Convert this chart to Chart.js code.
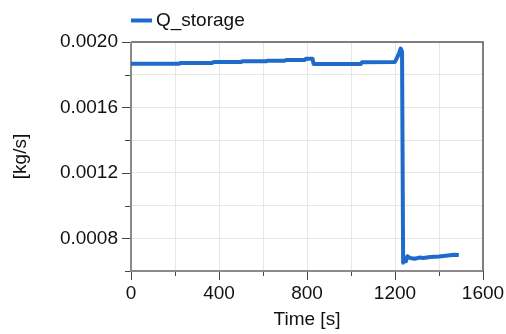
<!DOCTYPE html>
<html>
<head>
<meta charset="utf-8">
<script src="https://cdn.jsdelivr.net/npm/chart.js@4.4.1/dist/chart.umd.min.js"></script>
<style>
  html, body { margin: 0; padding: 0; background: #fff; }
  #wrap { width: 506px; height: 334px; }
</style>
</head>
<body>
<div id="wrap"><canvas id="chart" width="506" height="334"></canvas></div>
<script>
// time [s] and Q_storage [kg/s]
const timeS = [0, 220, 225, 370, 375, 500, 505, 615, 620, 700, 705, 790, 795, 825, 830,
  1045, 1050, 1200, 1215, 1226, 1232, 1237, 1243, 1250, 1256, 1268,
  1290, 1310, 1330, 1360, 1400, 1440, 1470, 1490];
const qStorage = [0.001867, 0.001867, 0.001872, 0.001872, 0.001877, 0.001877, 0.001882, 0.001882,
  0.001886, 0.001886, 0.00189, 0.00189, 0.001898, 0.001898, 0.001866,
  0.001866, 0.001876, 0.001878, 0.00192, 0.00196, 0.00194, 0.00065, 0.00068,
  0.00066, 0.00069, 0.00068, 0.000675, 0.000682, 0.00068, 0.000685, 0.000688, 0.000695,
  0.0007, 0.000698];
const xTicks = [0, 400, 800, 1200, 1600];
const yTicks = [0.0008, 0.0012, 0.0016, 0.0020];

const seriesName = "Q_storage";
const lineColor = "#1f6bcc";
const fontFamily = "'Liberation Sans', Arial, sans-serif";

const points = timeS.map((t, i) => ({ x: t, y: qStorage[i] }));

const isLabeled = (list, v) => list.some(t => Math.abs(t - v) < 1e-9);

// axis frame, tick marks and legend
const decorations = {
  id: "decorations",
  beforeDatasetsDraw(chart) {
    const { ctx, chartArea: a, scales } = chart;
    ctx.save();
    // top & right border
    ctx.strokeStyle = "#5a5a5a";
    ctx.lineWidth = 1.5;
    ctx.beginPath();
    ctx.moveTo(a.left, a.top);
    ctx.lineTo(a.right, a.top);
    ctx.lineTo(a.right, a.bottom);
    ctx.stroke();
    // tick marks
    ctx.strokeStyle = "#444";
    ctx.lineWidth = 1;
    scales.x.ticks.forEach(t => {
      const px = Math.round(scales.x.getPixelForValue(t.value)) + 0.5;
      const len = isLabeled(xTicks, t.value) ? 9 : 5;
      ctx.beginPath();
      ctx.moveTo(px, a.bottom);
      ctx.lineTo(px, a.bottom + len);
      ctx.stroke();
    });
    scales.y.ticks.forEach(t => {
      const py = Math.round(scales.y.getPixelForValue(t.value)) + 0.5;
      const len = isLabeled(yTicks, t.value) ? 9 : 6;
      ctx.beginPath();
      ctx.moveTo(a.left - len, py);
      ctx.lineTo(a.left, py);
      ctx.stroke();
    });
    // left & bottom axis lines
    ctx.strokeStyle = "#8a8a8a";
    ctx.lineWidth = 2;
    ctx.beginPath();
    ctx.moveTo(a.left, a.top);
    ctx.lineTo(a.left, a.bottom);
    ctx.lineTo(a.right, a.bottom);
    ctx.stroke();
    ctx.restore();
  },
  afterDraw(chart) {
    const { ctx, chartArea: a } = chart;
    ctx.save();
    ctx.strokeStyle = lineColor;
    ctx.lineWidth = 4;
    ctx.beginPath();
    ctx.moveTo(a.left, 20.5);
    ctx.lineTo(a.left + 21, 20.5);
    ctx.stroke();
    ctx.fillStyle = "#111";
    ctx.font = "19px " + fontFamily;
    ctx.textBaseline = "middle";
    ctx.fillText(seriesName, a.left + 25, 21);
    ctx.restore();
  }
};

const config = {
  type: "line",
  data: {
    datasets: [
      {
        label: seriesName,
        data: points,
        borderColor: lineColor,
        backgroundColor: lineColor,
        borderWidth: 4,
        pointRadius: 0,
        tension: 0,
        borderJoinStyle: "round",
      },
    ],
  },
  options: {
    responsive: false,
    animation: false,
    layout: { padding: { left: 0, top: 42, right: 23, bottom: 0 } },
    plugins: { legend: { display: false }, tooltip: { enabled: false } },
    scales: {
      x: {
        type: "linear",
        min: 0,
        max: 1600,
        afterFit: s => { s.height = 63; s.paddingLeft = 0; s.paddingRight = 0; },
        ticks: {
          stepSize: 200,
          padding: 11,
          color: "#111",
          font: { family: fontFamily, size: 19 },
          maxRotation: 0,
          autoSkip: false,
          callback: v => isLabeled(xTicks, v) ? String(v) : "",
        },
        grid: { color: "#e6e6e6", drawTicks: false },
        border: { display: false },
        title: {
          display: true,
          text: "Time [s]",
          color: "#111",
          font: { family: fontFamily, size: 19 },
          padding: { top: 0, bottom: 3 },
        },
      },
      y: {
        min: 0.0006,
        max: 0.0020,
        afterFit: s => { s.width = 131; s.paddingTop = 0; s.paddingBottom = 0; },
        ticks: {
          stepSize: 0.0002,
          padding: 13,
          color: "#111",
          font: { family: fontFamily, size: 19 },
          autoSkip: false,
          callback: v => isLabeled(yTicks, v) ? v.toFixed(4) : "",
        },
        grid: { color: "#e6e6e6", drawTicks: false },
        border: { display: false },
        title: {
          display: true,
          text: "[kg/s]",
          color: "#111",
          font: { family: fontFamily, size: 19 },
          padding: { top: 9, bottom: 0 },
        },
      },
    },
  },
  plugins: [decorations],
};

const myChart = new Chart(document.getElementById("chart"), config);
</script>
</body>
</html>
